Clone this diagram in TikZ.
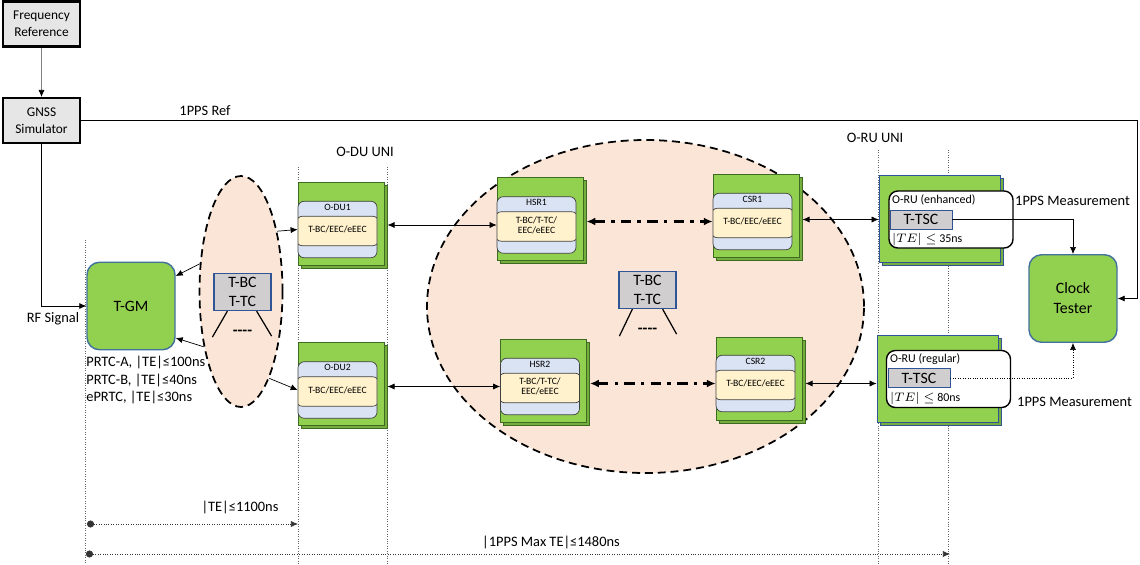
\documentclass[tikz,border=0pt]{standalone}
\usepackage{fontspec}
\setmainfont{Carlito}
\usepackage{amsmath}
\usepackage{xcolor}
\usepackage{tikz}
\usetikzlibrary{positioning, arrows.meta, shapes.geometric, shadows}

\definecolor{tgreen}{HTML}{92D050}
\definecolor{tgside}{HTML}{76AE3E}
\definecolor{tgline}{HTML}{3D6B22}
\definecolor{tblue}{HTML}{41719C}
\definecolor{rublue}{HTML}{2F5597}
\definecolor{peach}{HTML}{FBE5D6}
\definecolor{band}{HTML}{DAE3F3}
\definecolor{cream}{HTML}{FFF2CC}
\definecolor{boxgray}{HTML}{D0CECE}
\definecolor{refgray}{HTML}{E7E6E6}

\tikzset{
  src/.style={draw, line width=1.2pt, fill=refgray, minimum width=1.55cm, minimum height=0.9cm,
    align=center, font=\fontsize{7.6}{9.6}\selectfont},
  clk/.style={draw=tblue, line width=0.8pt, fill=tgreen, rounded corners=0.25cm, minimum width=1.76cm,
    minimum height=1.75cm, align=center, font=\fontsize{9}{11.4}\selectfont},
  zone/.style={ellipse, draw, line width=1pt, dash pattern=on 4.5pt off 2.8pt, fill=peach, inner sep=0pt},
  tbc/.style={draw=rublue, line width=0.7pt, fill=boxgray, minimum width=1.14cm, minimum height=0.74cm,
    inner sep=0pt, align=center, font=\fontsize{9}{11}\selectfont},
  nebox/.style={draw=tgline, fill=tgreen, minimum width=1.72cm, minimum height=1.66cm,
    general shadow={shadow xshift=1.8pt, shadow yshift=-1.8pt, fill=tgside, draw=tgline}},
  rubox/.style={draw=rublue, fill=tgreen, minimum width=2.42cm, minimum height=1.74cm,
    general shadow={shadow xshift=1.8pt, shadow yshift=-1.8pt, fill=tgside, draw=rublue}},
  card/.style={draw=black!75, fill=band, rounded corners=3.5pt, minimum width=1.58cm, minimum height=1.13cm,
    inner sep=0pt, align=center, font=\fontsize{5.5}{5.6}\selectfont,
    path picture={\draw[black!75, fill=cream] ([xshift=-1pt, yshift=-0.3cm]path picture bounding box.north west)
      rectangle ([xshift=1pt, yshift=0.24cm]path picture bounding box.south east);},
    label={[font=\fontsize{5.5}{6.6}\selectfont, anchor=north, inner sep=1.6pt]north:#1}},
  rucard/.style={draw, line width=0.8pt, fill=white, rounded corners=5pt, minimum width=2.48cm, minimum height=1.14cm},
  tsc/.style={draw=rublue, fill=boxgray, minimum width=1.24cm, minimum height=0.38cm, inner sep=0pt,
    font=\fontsize{9}{10}\selectfont},
  rutext/.style={anchor=west, inner sep=1pt, font=\fontsize{6.8}{8}\selectfont},
  uniline/.style={densely dotted, black!60},
  ring/.style={{Latex[length=5pt, width=4.5pt]}-{Latex[length=5pt, width=4.5pt]}, line width=1.3pt,
    dash pattern=on 6pt off 3.5pt on 2pt off 3.5pt},
  meas/.style={densely dotted, black!80, {Circle[length=4pt]}-{Latex[length=4pt, width=3.5pt]}}
}

\begin{document}
\begin{tikzpicture} [node distance = 2cm, on grid, >={Latex[length=4pt, width=3.5pt]},
  font=\fontsize{8.2}{10.2}\selectfont]
  \useasboundingbox (0,0) rectangle (22.8,-11.28);

  % dotted reference planes
  \draw[uniline] (1.7,-4.8) -- (1.7,-11.28);
  \draw[uniline] (5.96,-3.34) -- (5.96,-11.28); \draw[uniline] (7.74,-3.34) -- (7.74,-11.28);
  \draw[uniline] (17.56,-3.0) -- (17.56,-11.28); \draw[uniline] (18.96,-3.0) -- (18.96,-11.28);

  \node (sell) [zone, minimum width=1.66cm, minimum height=4.62cm] at (4.82,-5.83) {};
  \node (bell) [zone, minimum width=8.74cm, minimum height=6.66cm] at (12.91,-6.13) {};

  \node (freq) [src] at (0.83,-0.48) {Frequency\\Reference};
  \node (gnss) [src, below=1.93cm of freq] {GNSS\\Simulator};
  \node (tgm) [clk] at (2.62,-6.12) {T-GM};
  \node (clock) [clk] at (21.46,-5.97) {Clock\\Tester};

  \node (tbc1) [tbc] at (4.85,-5.84) {T-BC\\T-TC};
  \node (dash1) [below=0.82cm of tbc1, font=\fontsize{9}{10}\selectfont\bfseries] {-{}-{}-{}-};
  \node (tbc2) [tbc] at (12.95,-5.8) {T-BC\\T-TC};
  \node (dash2) [below=0.82cm of tbc2, font=\fontsize{9}{10}\selectfont\bfseries] {-{}-{}-{}-};
  \draw[line width=0.7pt] ([xshift=0.28cm]tbc1.south west) -- ++(-0.3,-0.52)
    ([xshift=-0.3cm]tbc1.south east) -- ++(0.3,-0.5);
  \draw[line width=0.7pt] ([xshift=0.28cm]tbc2.south west) -- ++(-0.26,-0.54)
    ([xshift=-0.28cm]tbc2.south east) -- ++(0.28,-0.5);

  \node (odu1) [nebox] at (6.82,-4.47) {};
  \node (odu1in) [card=O-DU1, below left=0.12cm and 0.07cm of odu1] {T-BC/EEC/eEEC};
  \node (odu2) [nebox, below=3.21cm of odu1] {};
  \node (odu2in) [card=O-DU2, below left=0.12cm and 0.07cm of odu2] {T-BC/EEC/eEEC};
  \node (hsr1) [nebox] at (10.8,-4.38) {};
  \node (hsr1in) [card=HSR1, below left=0.12cm and 0.07cm of hsr1] {T-BC/T-TC/\\EEC/eEEC};
  \node (hsr2) [nebox] at (10.87,-7.61) {};
  \node (hsr2in) [card=HSR2, below left=0.12cm and 0.07cm of hsr2] {T-BC/T-TC/\\EEC/eEEC};
  \node (csr1) [nebox] at (15.12,-4.31) {};
  \node (csr1in) [card=CSR1, below left=0.12cm and 0.07cm of csr1] {T-BC/EEC/eEEC};
  \node (csr2) [nebox] at (15.18,-7.57) {};
  \node (csr2in) [card=CSR2, below left=0.1cm and 0.07cm of csr2] {T-BC/EEC/eEEC};

  \node (oru1) [rubox] at (18.79,-4.37) {};
  \node (oru1in) [rucard] at (19.02,-4.39) {};
  \node (tsc1) [tsc] at (18.42,-4.39) {T-TSC};
  \node (oru1t) [rutext] at (17.8,-4.0) {O-RU (enhanced)};
  \node (oru1te) [rutext] at (17.8,-4.78) {$|TE|\leq$ 35ns};
  \node (oru2) [rubox] at (18.75,-7.57) {};
  \node (oru2in) [rucard] at (18.97,-7.58) {};
  \node (tsc2) [tsc] at (18.38,-7.56) {T-TSC};
  \node (oru2t) [rutext] at (17.76,-7.18) {O-RU (regular)};
  \node (oru2te) [rutext] at (17.76,-7.96) {$|TE|\leq$ 80ns};

  \node (ppsref) at (4.1,-2.22) {1PPS Ref};
  \node (rf) at (1.06,-6.38) {RF Signal};
  \node (prtc) [anchor=west, align=left, inner sep=0pt] at (1.72,-7.6)
    {PRTC-A, |TE|≤100ns\\PRTC-B, |TE|≤40ns\\ePRTC, |TE|≤30ns};
  \node (duuni) at (7.3,-3.04) {O-DU UNI}; \node (ruuni) at (17.5,-2.76) {O-RU UNI};
  \node (meas1) at (21.45,-4.02) {1PPS Measurement};
  \node (meas2) at (21.49,-8.04) {1PPS Measurement};
  \node (te1) at (4.8,-10.14) {|TE|≤1100ns};
  \node (te2) at (11.02,-10.84) {|1PPS Max TE|≤1480ns};

  \coordinate (ppsc) at (22.74,-4);
  \coordinate (d1a) at (1.74,-10.48); \coordinate (d1b) at (5.96,-10.48);
  \coordinate (d2a) at (1.72,-11.08); \coordinate (d2b) at (19.0,-11.08);

  \draw[-{Latex[black, length=4pt, width=3.5pt]}, black!50] (freq) -- (gnss);
  \draw[->] (gnss.south) |- (tgm.west);
  \draw[->] (gnss.east) -| (ppsc) |- (clock.east);
  \draw[->] (sell.146) -- ([yshift=0.6cm]tgm.east); \draw[->] (sell.236) -- ([yshift=-0.64cm]tgm.east);
  \draw[->] (sell.59) -- (odu1in.west); \draw[->] (sell.288) -- (odu2in.west);
  \draw[<->] ([xshift=1.8pt]odu1.east |- hsr1in.west) -- (hsr1in.west);
  \draw[<->] ([xshift=1.8pt]odu2.east |- hsr2in.west) -- (hsr2in.west);
  \draw[ring] ([xshift=1.8pt]hsr1.east |- csr1in.west) -- (csr1in.west);
  \draw[ring] ([xshift=1.8pt]hsr2.east |- csr2in.west) -- (csr2in.west);
  \draw[<->] ([xshift=1.8pt]csr1.east |- tsc1) -- (oru1.west |- tsc1);
  \draw[<->] ([xshift=1.8pt]csr2.east |- csr2in) -- (oru2.west |- csr2in);
  \draw[->] (tsc1.east) -| (clock.north);
  \draw[->, densely dotted] (tsc2.east) -| (clock.south);
  \draw[meas] (d1a) -- (d1b); \draw[meas] (d2a) -- (d2b);

\end{tikzpicture}
\end{document}
